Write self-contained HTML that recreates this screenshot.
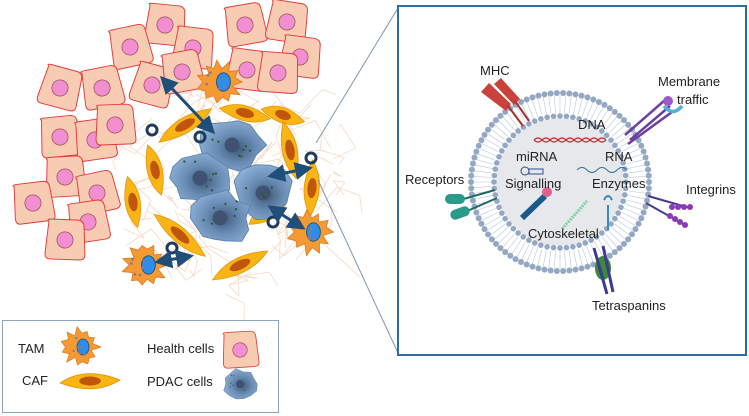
<!DOCTYPE html>
<html><head><meta charset="utf-8"><style>
html,body{margin:0;padding:0;background:#fff;width:749px;height:416px;overflow:hidden}
svg{display:block}
text{font-family:"Liberation Sans",sans-serif;font-size:13px;fill:#222}
</style></head><body>
<svg id="s" width="749" height="416" viewBox="0 0 749 416" xmlns="http://www.w3.org/2000/svg">
<defs>
<radialGradient id="pg" cx="0.55" cy="0.55" r="0.6"><stop offset="0" stop-color="#3d5878"/><stop offset="0.5" stop-color="#6a8db5"/><stop offset="1" stop-color="#8fb0d6"/></radialGradient>
<marker id="ah" markerWidth="6" markerHeight="6" refX="5" refY="3" orient="auto-start-reverse"><path d="M0,0 L6,3 L0,6 z" fill="#1f4e79"/></marker>
</defs>
<g id="fib" stroke="#f5d3bb" stroke-width="0.7" fill="none"></g>
<g id="cells"></g>
<g id="caf"></g>
<g id="pdac"></g>
<g id="tam"></g>
<g fill="none" stroke="#1f3b5c" stroke-width="3">
<circle cx="152" cy="130" r="5"/><circle cx="200" cy="137" r="5"/><circle cx="311" cy="158" r="5"/><circle cx="273" cy="222" r="5"/><circle cx="172" cy="248" r="5"/>
</g>
<g stroke="#1f4e79" stroke-width="3" marker-start="url(#ah)" marker-end="url(#ah)">
<line x1="162" y1="78" x2="213" y2="132"/><line x1="270" y1="176" x2="310" y2="168"/><line x1="270" y1="207" x2="303" y2="228"/><line x1="157" y1="262" x2="191" y2="256"/>
</g>
<line x1="316" y1="143" x2="398" y2="8" stroke="#7f95ad" stroke-width="1"/>
<line x1="318" y1="180" x2="398" y2="353" stroke="#7f95ad" stroke-width="1"/>
<rect x="2.5" y="320.5" width="276" height="92" fill="#fff" stroke="#8ea3bd" stroke-width="1"/>
<text x="18" y="353">TAM</text><text x="22" y="385">CAF</text>
<text x="147" y="353">Health cells</text><text x="147" y="386">PDAC cells</text>
<g id="leg"></g>
<rect x="398" y="6" width="348" height="349" fill="#fff" stroke="#2e6da4" stroke-width="2"/>
<circle cx="560" cy="182" r="91" fill="#fff"/>
<circle cx="560" cy="182" r="64" fill="#e6e8ec"/>
<g id="mem"></g>
<g id="prot"></g>
<text x="480" y="75">MHC</text><text x="658" y="86">Membrane</text><text x="677" y="104">traffic</text>
<text x="578" y="129">DNA</text><text x="516" y="161">miRNA</text><text x="605" y="161">RNA</text>
<text x="405" y="184">Receptors</text><text x="505" y="188">Signalling</text><text x="592" y="188">Enzymes</text>
<text x="686" y="194">Integrins</text><text x="528" y="238">Cytoskeletal</text><text x="592" y="310">Tetraspanins</text>
</svg>
<script>
var NS="http://www.w3.org/2000/svg";
function el(p,t,a){var e=document.createElementNS(NS,t);for(var k in a)e.setAttribute(k,a[k]);(typeof p=="string"?document.getElementById(p):p).appendChild(e);return e;}
var seed=7;function r(){seed=(seed*16807)%2147483647;return seed/2147483647;}
for(var i=0;i<80;i++){var a=r()*6.283,d=Math.sqrt(r())*115;var x=228+Math.cos(a)*d*1.05,y=195+Math.sin(a)*d*0.92;var pts=[];for(var j=0;j<4;j++){pts.push(x.toFixed(1)+","+y.toFixed(1));x+=(r()-0.5)*50;y+=(r()-0.5)*50;}el("fib","polyline",{points:pts.join(" ")});}
function cell(g,x,y,s){var rot=(r()-0.5)*30;var gg=el(g,"g",{transform:"translate("+x+","+y+") rotate("+rot+") scale("+s+")"});
el(gg,"path",{d:"M-17,-20 Q-20,-22 -14,-22 L14,-21 Q20,-20 20,-14 L21,16 Q21,21 15,21 L-16,20 Q-21,20 -21,14 Z",fill:"#f8cbb3",stroke:"#e43a3a","stroke-width":"1"});
el(gg,"circle",{r:"8.5",fill:"#f28fd3",stroke:"#a05050","stroke-width":"0.8"});}
[[165,25],[193,48],[130,47],[152,85],[182,72],[245,25],[287,22],[300,57],[247,70],[278,73],[60,88],[102,88],[60,137],[95,140],[115,125],[65,177],[33,203],[97,193],[88,222],[65,240]].forEach(function(c){cell("cells",c[0],c[1],0.95);});
function caf(g,x,y,ang,len){var gg=el(g,"g",{transform:"translate("+x+","+y+") rotate("+ang+")"});var h=len/2;
el(gg,"path",{d:"M"+(-h)+",2 Q-5,-15 "+h+",-1 Q5,15 "+(-h)+",2 Z",fill:"#f8b514",stroke:"#e5960a","stroke-width":"0.8"});
el(gg,"ellipse",{rx:len*0.18,ry:"4.5",fill:"#c0560c"});}
[[185,125,-30,62],[245,113,15,52],[283,115,20,45],[290,150,80,58],[312,188,95,56],[155,170,78,52],[133,202,82,52],[180,235,42,66],[268,212,-28,45],[240,265,-25,62]].forEach(function(c){caf("caf",c[0],c[1],c[2],c[3]);});
function pdac(g,x,y,s){var gg=el(g,"g",{transform:"translate("+x+","+y+") scale("+s+")"});var pts=[];for(var i=0;i<14;i++){var a=i/14*6.283,rr=25+(r()-0.5)*8;pts.push((Math.cos(a)*rr*1.05).toFixed(1)+","+(Math.sin(a)*rr*0.9).toFixed(1));}
el(gg,"polygon",{points:pts.join(" "),fill:"url(#pg)",stroke:"#5b83b0","stroke-width":"0.8","stroke-linejoin":"round"});
el(gg,"circle",{r:"6.5",fill:"#3f5272"});
for(var k=0;k<7;k++){el(gg,"circle",{cx:((r()-0.5)*34).toFixed(1),cy:((r()-0.5)*30).toFixed(1),r:"1",fill:"#2d5a2d"});}}
[[232,145],[200,178],[263,193],[220,218]].forEach(function(c){pdac("pdac",c[0],c[1],1.15);});
function tam(g,x,y,s){var gg=el(g,"g",{transform:"translate("+x+","+y+") scale("+s+")"});var pts=[];for(var i=0;i<22;i++){var a=i/22*6.283,rr=(i%2?13:19)+(r()-0.5)*4;pts.push((Math.cos(a)*rr).toFixed(1)+","+(Math.sin(a)*rr).toFixed(1));}
el(gg,"polygon",{points:pts.join(" "),fill:"#f39a35",stroke:"#e0781a","stroke-width":"0.7"});
el(gg,"ellipse",{cx:"3",rx:"6",ry:"8",fill:"#2d8de8",stroke:"#1f4e79","stroke-width":"0.8"});
for(var k=0;k<6;k++){el(gg,"circle",{cx:((r()-0.7)*18).toFixed(1),cy:((r()-0.5)*18).toFixed(1),r:"1.2",fill:"#8a7a8a"});}}
tam("tam",220,82,1.15);tam("tam",310,232,1.15);tam("tam",145,265,1.15);
tam("leg",80,347,1);caf("leg",90,381,0,60);
cell("leg",240,350,0.85);pdac("leg",240,384,0.62);
for(var i=0;i<96;i++){var a=i/96*6.283;var c=Math.cos(a),s=Math.sin(a);
el("mem","line",{x1:560+c*69,y1:182+s*69,x2:560+c*87,y2:182+s*87,stroke:"#b9c7dc","stroke-width":"0.6"});}
for(var i=0;i<90;i++){var a=i/90*6.283;el("mem","circle",{cx:560+Math.cos(a)*89,cy:182+Math.sin(a)*89,r:3,fill:"#94a8c4"});}
for(var i=0;i<64;i++){var a=i/64*6.283;el("mem","circle",{cx:560+Math.cos(a)*66,cy:182+Math.sin(a)*66,r:2.8,fill:"#94a8c4"});}
el("prot","path",{d:"M481,92 L489,83 L511,104 L506,111 Z M494,84 L501,78 L520,99 L514,105 Z",fill:"#c9423b"});
el("prot","path",{d:"M508,106 L523,126 M515,101 L529,121",stroke:"#a8302a","stroke-width":"2",fill:"none"});
el("prot","path",{d:"M625,135 L665,100 M630,140 L670,106 M628,144 L672,112",stroke:"#6a3fa0","stroke-width":"2.5",fill:"none"});
el("prot","circle",{cx:668,cy:101,r:5,fill:"#9b59c9"});el("prot","path",{d:"M664,106 Q673,117 682,106",stroke:"#4fb0d8","stroke-width":"3.5",fill:"none"});
el("prot","path",{d:"M495,190 L460,200 M497,198 L465,212",stroke:"#1f6b60","stroke-width":"2",fill:"none"});
el("prot","rect",{x:445,y:194,width:20,height:10,rx:5,fill:"#2a9a8a"});el("prot","rect",{x:450,y:208,width:20,height:10,rx:5,fill:"#2a9a8a",transform:"rotate(-20 460 213)"});
el("prot","path",{d:"M648,196 L690,208 M646,203 L685,225",stroke:"#4a3a8a","stroke-width":"2",fill:"none"});
for(var k=0;k<4;k++){el("prot","circle",{cx:672+k*6,cy:207,r:3,fill:"#8a3ab5"});el("prot","circle",{cx:670+k*5,cy:216+k*3,r:3,fill:"#8a3ab5"});}
el("prot","ellipse",{cx:603,cy:268,rx:8,ry:12,fill:"#3a8a3a"});
el("prot","path",{d:"M594,248 L607,294 M603,246 L613,292",stroke:"#3f3a90","stroke-width":"3",fill:"none"});
el("prot","path",{d:"M534,140 q4,-4 8,0 q4,4 8,0 q4,-4 8,0 q4,4 8,0 q4,-4 8,0 q4,4 8,0 q4,-4 8,0 q4,4 8,0 q4,-4 8,0 M534,140 q4,4 8,0 q4,-4 8,0 q4,4 8,0 q4,-4 8,0 q4,4 8,0 q4,-4 8,0 q4,4 8,0 q4,-4 8,0 q4,4 8,0",stroke:"#c03030","stroke-width":"1.2",fill:"none"});
el("prot","path",{d:"M577,170 q5,-5 10,0 q5,5 10,0 q5,-5 10,0 q5,5 10,0 q5,-5 10,0",stroke:"#2e6da4","stroke-width":"1",fill:"none"});
el("prot","circle",{cx:525,cy:171,r:4,fill:"none",stroke:"#2e4f8a","stroke-width":"1"});el("prot","rect",{x:529,y:169,width:14,height:5,fill:"none",stroke:"#2e4f8a","stroke-width":"1"});
el("prot","path",{d:"M522,218 L545,196",stroke:"#1a5a8a","stroke-width":"6",fill:"none"});el("prot","circle",{cx:547,cy:192,r:5,fill:"#e06090"});
el("prot","path",{d:"M562,229 L587,201",stroke:"#7fd39a","stroke-width":"3","stroke-dasharray":"2 1",fill:"none"});
el("prot","path",{d:"M608,230 L608,205 M604,200 q4,-8 8,0",stroke:"#3a8abf","stroke-width":"2",fill:"none"});
</script>
</body></html>
